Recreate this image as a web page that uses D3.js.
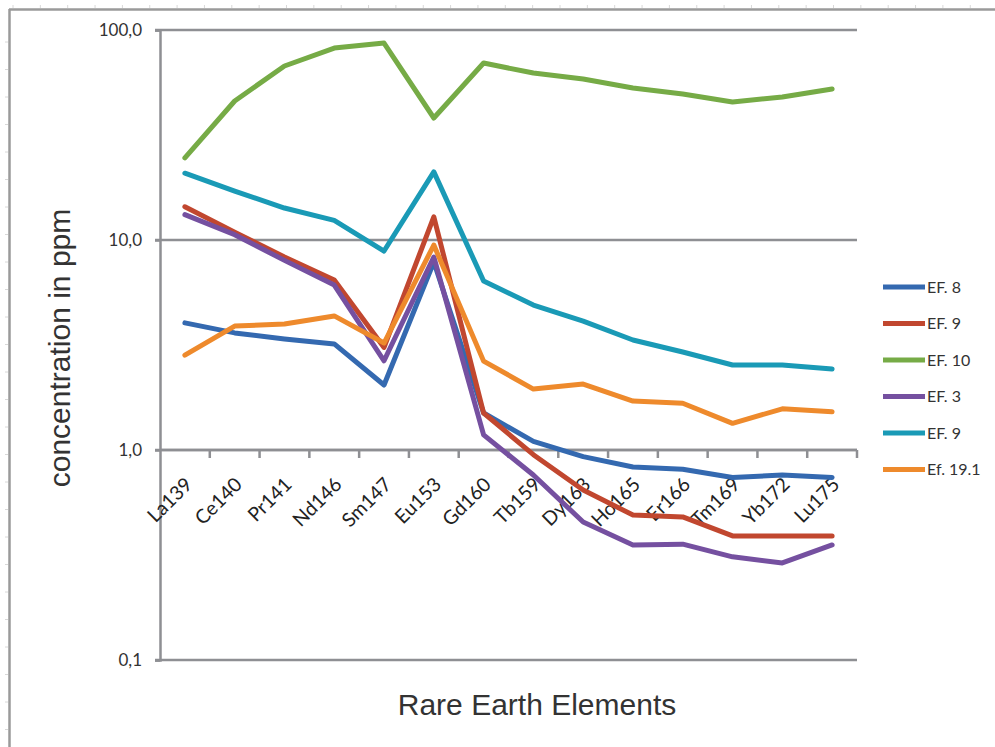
<!DOCTYPE html>
<html>
<head>
<meta charset="utf-8">
<script src="https://cdn.jsdelivr.net/npm/d3@7"></script>
<style>
  html, body { margin: 0; padding: 0; background: #fff; }
  svg { display: block; }
</style>
</head>
<body>
<svg id="chart" width="995" height="747"></svg>
<script>
// Rare earth element concentrations (ppm), one array per sample
const elements = ["La139", "Ce140", "Pr141", "Nd146", "Sm147", "Eu153", "Gd160",
                  "Tb159", "Dy163", "Ho165", "Er166", "Tm169", "Yb172", "Lu175"];

const ef8   = [4.03, 3.61, 3.38, 3.2, 2.04, 7.86, 1.5, 1.1, 0.93, 0.83, 0.81, 0.74, 0.76, 0.74];
const ef9a  = [14.4, 10.9, 8.3, 6.45, 3.08, 12.9, 1.5, 0.95, 0.645, 0.49, 0.48, 0.39, 0.39, 0.39];
const ef10  = [24.6, 45.9, 67.4, 82, 86.7, 38.1, 69.6, 62.4, 58.4, 52.9, 49.6, 45.4, 48, 52.4];
const ef3   = [13.2, 10.6, 8.0, 6.1, 2.66, 8.3, 1.18, 0.76, 0.454, 0.353, 0.356, 0.31, 0.29, 0.353];
const ef9b  = [20.8, 17.1, 14.2, 12.4, 8.86, 21.1, 6.38, 4.9, 4.11, 3.34, 2.93, 2.54, 2.54, 2.43];
const ef191 = [2.83, 3.89, 3.98, 4.35, 3.23, 9.46, 2.65, 1.95, 2.06, 1.71, 1.67, 1.34, 1.57, 1.52];

const seriesNames = ["EF. 8", "EF. 9", "EF. 10", "EF. 3", "EF. 9", "Ef. 19.1"];
const seriesValues = [ef8, ef9a, ef10, ef3, ef9b, ef191];
const seriesColors = ["#3469b0", "#c1472f", "#76ab46", "#7550a0", "#1a9ab6", "#ee8a2c"];

const yTicks = [0.1, 1, 10, 100];
const yTickLabels = ["0,1", "1,0", "10,0", "100,0"];

const svg = d3.select("#chart");
const gridColor = "#8e8f93";

// Page frame with ruler marks
const frame = svg.append("g");
frame.append("line").attr("x1", 9).attr("x2", 995).attr("y1", 9.5).attr("y2", 9.5)
  .attr("stroke", "#9a9a9a").attr("stroke-width", 2.5);
frame.append("line").attr("x1", 9.5).attr("x2", 9.5).attr("y1", 9).attr("y2", 747)
  .attr("stroke", "#9a9a9a").attr("stroke-width", 2.5);
d3.range(13, 995, 27.35).forEach(x => {
  frame.append("line").attr("x1", x).attr("x2", x).attr("y1", 5).attr("y2", 8)
    .attr("stroke", "#d8d8d8").attr("stroke-width", 1);
});
d3.range(42, 747, 27.5).forEach(y => {
  frame.append("line").attr("x1", 5).attr("x2", 8).attr("y1", y).attr("y2", y)
    .attr("stroke", "#d8d8d8").attr("stroke-width", 1);
});

// Scales
const x = d3.scaleBand().domain(elements).range([160, 857]);
const y = d3.scaleLog().domain([0.1, 100]).range([660, 30]);

// Horizontal gridlines at each decade
svg.append("g").selectAll("line").data(yTicks).join("line")
  .attr("x1", 155).attr("x2", 857)
  .attr("y1", d => y(d)).attr("y2", d => y(d))
  .attr("stroke", gridColor).attr("stroke-width", 2.5);

// Y axis
const yAxis = svg.append("g").attr("transform", "translate(160,0)")
  .call(d3.axisLeft(y).tickValues(yTicks).tickSize(5).tickPadding(13)
    .tickFormat((d, i) => yTickLabels[i]));
yAxis.select(".domain").attr("stroke", gridColor).attr("stroke-width", 2.5);
yAxis.selectAll(".tick line").attr("stroke", gridColor).attr("stroke-width", 2.5);
yAxis.selectAll(".tick text").attr("fill", "#333").attr("font-family", "Lato, sans-serif")
  .attr("font-size", 17).attr("dy", "0.35em");

// Category axis crossing at 1.0
const xAxisY = y(1);
const xAxis = svg.append("g").attr("transform", `translate(0,${xAxisY})`);
xAxis.append("line").attr("x1", 160).attr("x2", 857).attr("y1", 0).attr("y2", 0)
  .attr("stroke", gridColor).attr("stroke-width", 2.5);
xAxis.selectAll("line.tk").data(elements).join("line").attr("class", "tk")
  .attr("x1", d => x(d) + x.bandwidth()).attr("x2", d => x(d) + x.bandwidth())
  .attr("y1", 0).attr("y2", 8)
  .attr("stroke", gridColor).attr("stroke-width", 2.5);

// Series lines
const line = d3.line()
  .x((d, i) => x(elements[i]) + x.bandwidth() / 2)
  .y(d => y(d));
svg.append("g").selectAll("path").data(seriesValues).join("path")
  .attr("d", d => line(d))
  .attr("fill", "none")
  .attr("stroke", (d, i) => seriesColors[i])
  .attr("stroke-width", 5)
  .attr("stroke-linejoin", "round")
  .attr("stroke-linecap", "round");

// Rotated category labels
xAxis.selectAll("text").data(elements).join("text")
  .attr("transform", d => `translate(${x(d) + x.bandwidth() / 2 - 1},${26}) rotate(-45)`)
  .attr("text-anchor", "end")
  .attr("dy", "0.7em")
  .attr("fill", "#222")
  .attr("font-family", "Lato, sans-serif")
  .attr("font-size", 19.5)
  .text(d => d);

// Axis titles
svg.append("text")
  .attr("transform", "translate(70,348) rotate(-90)")
  .attr("text-anchor", "middle")
  .attr("fill", "#333")
  .attr("font-family", "'Liberation Sans', Arial, sans-serif")
  .attr("font-size", 30)
  .text("concentration in ppm");

svg.append("text")
  .attr("x", 537).attr("y", 715)
  .attr("text-anchor", "middle")
  .attr("fill", "#333")
  .attr("font-family", "'Liberation Sans', Arial, sans-serif")
  .attr("font-size", 30)
  .text("Rare Earth Elements");

// Legend
const legend = svg.append("g").selectAll("g").data(seriesNames).join("g")
  .attr("transform", (d, i) => `translate(883,${287 + i * 36.5})`);
legend.append("line").attr("x1", 0).attr("x2", 42).attr("y1", 0).attr("y2", 0)
  .attr("stroke", (d, i) => seriesColors[i]).attr("stroke-width", 5);
legend.append("text").attr("x", 44).attr("y", 0).attr("dy", "0.35em")
  .attr("fill", "#333").attr("font-family", "Lato, sans-serif").attr("font-size", 16)
  .text(d => d);
</script>
</body>
</html>
